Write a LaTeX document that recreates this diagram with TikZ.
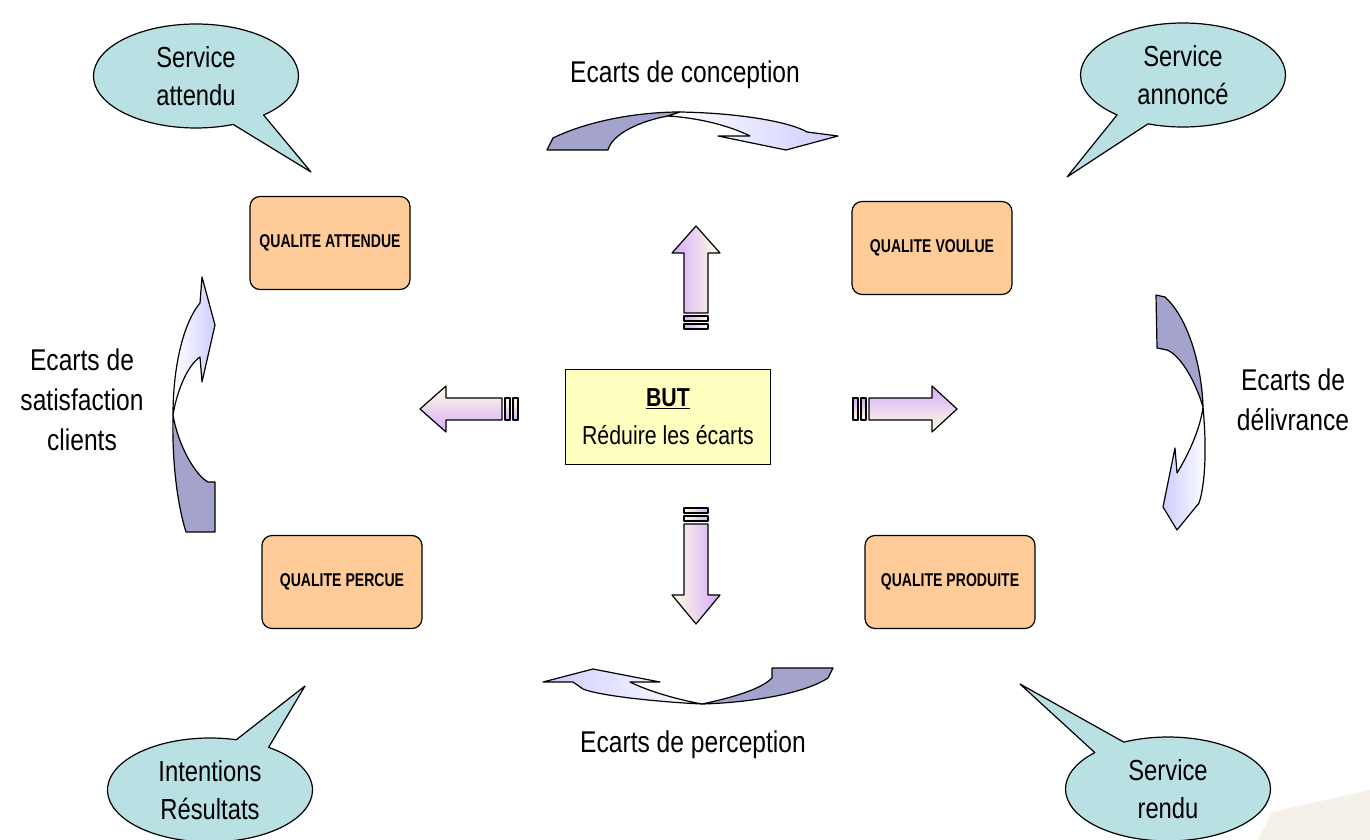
\documentclass[tikz,border=0pt]{standalone}
\usepackage{fontspec}
\setmainfont[FakeStretch=0.82]{Liberation Sans}
\newfontfamily\qualitefont[FakeStretch=0.76]{Liberation Sans}
\usetikzlibrary{shapes.callouts}

\definecolor{boxorange}{RGB}{255,204,153}
\definecolor{bubblecyan}{RGB}{185,224,227}
\definecolor{butyellow}{RGB}{255,255,192}
\definecolor{taildark}{RGB}{163,163,204}
\definecolor{headlight}{RGB}{205,205,255}
\definecolor{arrowpurple}{RGB}{214,170,255}
\definecolor{arrowcream}{RGB}{255,255,222}
\definecolor{paper}{RGB}{245,240,232}

\begin{document}
\begin{tikzpicture}[x=1pt,y=-1pt,line join=round,line width=1.2pt]

      \useasboundingbox (0,0) rectangle (1370,840);
      \fill[paper] (1258,840) -- (1272,812) -- (1370,790) -- (1370,840) -- cycle;

      % les quatre qualites
      \begin{scope}[every node/.style={draw,fill=boxorange,rounded corners=10pt,
          minimum width=160,minimum height=93,font=\qualitefont\bfseries\fontsize{18.5}{22}\selectfont}]
        \node (attendue) at (330,243) {QUALITE ATTENDUE};
        \node (voulue)   at (932,248) {QUALITE VOULUE};
        \node (percue)   at (342,582) {QUALITE PERCUE};
        \node[minimum width=170] (produite) at (950,582) {QUALITE PRODUITE};
      \end{scope}

      \node[draw,fill=butyellow,minimum width=205,minimum height=95,align=center,
        font=\fontsize{26}{38}\selectfont] (but) at (668,417)
        {\textbf{\underline{BUT}}\\Réduire les écarts};

      % bulles
      \coordinate (tipattendu)  at (311,172);
      \coordinate (tipannonce)  at (1067,177);
      \coordinate (tipresultat) at (305,686);
      \coordinate (tiprendu)    at (1020,684);
      \begin{scope}[every node/.style={ellipse callout,draw,fill=bubblecyan,
          minimum width=205,minimum height=104,inner sep=0pt,align=center,
          callout pointer arc=20,font=\fontsize{29}{38}\selectfont}]
        \node[callout absolute pointer={(tipattendu)}]  (attendu)  at (196,76)   {Service\\attendu};
        \node[callout absolute pointer={(tipannonce)}]  (annonce)  at (1183,75)  {Service\\annoncé};
        \node[callout absolute pointer={(tipresultat)}] (resultat) at (210,790)  {Intentions\\Résultats};
        \node[callout absolute pointer={(tiprendu)}]    (rendu)    at (1168,789) {Service\\rendu};
      \end{scope}

      % ecarts
      \begin{scope}[every node/.style={align=center,font=\fontsize{30}{40}\selectfont}]
        \node (conception)   at (685,75)   {Ecarts de conception};
        \node (perception)   at (693,745)  {Ecarts de perception};
        \node (satisfaction) at (82,400)   {Ecarts de\\satisfaction\\clients};
        \node (delivrance)   at (1293,400) {Ecarts de\\délivrance};
      \end{scope}

      % fleches droites
      \shade[draw,left color=arrowpurple,right color=arrowcream]
        (684,313) -- (684,253) -- (672,253) -- (696,226) -- (720,253) -- (708,253) -- (708,313) -- cycle;
      \shade[draw,left color=arrowpurple,right color=arrowcream] (684,316) rectangle (708,321);
      \shade[draw,left color=arrowpurple,right color=arrowcream] (684,324) rectangle (708,329);

      \shade[draw,left color=arrowcream,right color=arrowpurple]
        (684,524) -- (684,595) -- (672,595) -- (696,624) -- (720,595) -- (708,595) -- (708,524) -- cycle;
      \shade[draw,left color=arrowcream,right color=arrowpurple] (684,516) rectangle (708,521);
      \shade[draw,left color=arrowcream,right color=arrowpurple] (684,508) rectangle (708,513);

      \shade[draw,top color=arrowcream,bottom color=arrowpurple]
        (502,398) -- (446,398) -- (446,386) -- (420,409) -- (446,432) -- (446,420) -- (502,420) -- cycle;
      \shade[draw,top color=arrowcream,bottom color=arrowpurple] (505,398) rectangle (510,420);
      \shade[draw,top color=arrowcream,bottom color=arrowpurple] (513,398) rectangle (518,420);

      \shade[draw,top color=arrowpurple,bottom color=arrowcream]
        (869,398) -- (932,398) -- (932,386) -- (957,409) -- (932,432) -- (932,420) -- (869,420) -- cycle;
      \shade[draw,top color=arrowpurple,bottom color=arrowcream] (861,398) rectangle (866,420);
      \shade[draw,top color=arrowpurple,bottom color=arrowcream] (853,398) rectangle (858,420);

      % fleches courbes
      \filldraw[fill=taildark] (547,150) -- (553,138) .. controls (590,120) and (640,112) .. (680,112)
        -- (668,116) .. controls (640,121) and (612,134) .. (608,150) -- cycle;
      \shade[draw,left color=white,right color=headlight] (680,112) .. controls (740,113) and (790,122) .. (807,132)
        -- (838,136) -- (786,150) -- (718,136) -- (750,136) .. controls (730,126) and (700,118) .. (668,116) -- cycle;

      \filldraw[fill=taildark] (772,668) -- (833,668) -- (828,678) .. controls (800,696) and (740,703) .. (702,704)
        .. controls (730,698) and (760,690) .. (772,678) -- cycle;
      \shade[draw,left color=headlight,right color=white] (702,704) .. controls (660,702) and (600,696) .. (583,689)
        -- (573,682) -- (543,682) -- (593,669) -- (660,682) -- (630,682) .. controls (650,692) and (680,700) .. (702,704) -- cycle;

      \shade[draw,left color=white,right color=headlight] (200,303) -- (202,277) -- (215,325) -- (202,382) -- (200,357)
        .. controls (188,365) and (177,390) .. (173,415) .. controls (173,370) and (182,325) .. (200,303) -- cycle;
      \filldraw[fill=taildark] (173,415) .. controls (178,445) and (195,475) .. (208,482) -- (215,482) -- (215,532)
        -- (186,532) .. controls (176,500) and (172,455) .. (173,415) -- cycle;

      \filldraw[fill=taildark] (1156,295) -- (1165,297) .. controls (1190,320) and (1202,370) .. (1203,407)
        .. controls (1195,380) and (1180,355) .. (1167,350) -- (1157,348) -- cycle;
      \shade[draw,left color=headlight,right color=white] (1203,407) .. controls (1207,450) and (1205,485) .. (1199,503)
        -- (1177,530) -- (1163,507) -- (1175,448) -- (1177,473) .. controls (1188,455) and (1200,430) .. (1203,407) -- cycle;

    \end{tikzpicture}
\end{document}
